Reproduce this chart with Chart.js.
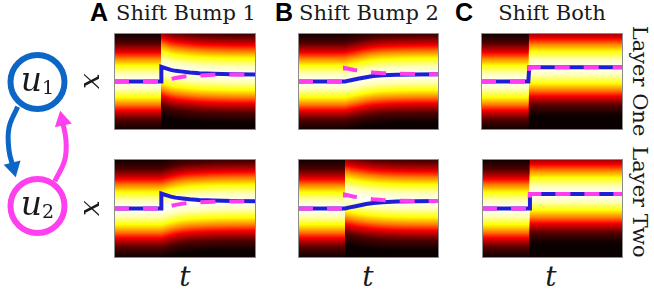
<!DOCTYPE html>
<html lang="en">
<head>
<meta charset="UTF-8">
<title>Shift Bump panels</title>
<script src="https://cdn.jsdelivr.net/npm/chart.js"></script>
<style>
  body { margin: 0; background: #fff; }
  #fig { position: relative; width: 654px; height: 291px; overflow: hidden; color: #1a1a1a; }
  #fig canvas { position: absolute; }
  .lbl { position: absolute; white-space: nowrap; line-height: 1; font-family: "DejaVu Serif", serif; }
  .tag { font-family: "Liberation Sans", Arial, sans-serif; font-weight: bold; font-size: 25px; color: #000; }
  .ttl { font-size: 21px; transform: translateX(-50%); }
  .ax { font-style: italic; font-size: 28px; }
  .side { font-size: 21px; transform: translate(-50%, -50%) rotate(90deg); }
  .node { font-size: 33px; width: 75px; text-align: center; left: 0; }
  .node i { font-style: italic; }
  .node span { font-size: 19px; vertical-align: -3px; }
</style>
</head>
<body>
<div id="fig">
  <canvas id="net" width="80" height="250" style="left:0;top:20px"></canvas>
  <canvas id="a1" width="142" height="97" style="left:114px;top:33px"></canvas>
  <canvas id="b1" width="141" height="97" style="left:298px;top:33px"></canvas>
  <canvas id="c1" width="142" height="97" style="left:481px;top:33px"></canvas>
  <canvas id="a2" width="142" height="99" style="left:114px;top:159px"></canvas>
  <canvas id="b2" width="141" height="99" style="left:298px;top:159px"></canvas>
  <canvas id="c2" width="141" height="99" style="left:482px;top:159px"></canvas>

  <div class="lbl tag" style="left:90px;top:0">A</div>
  <div class="lbl tag" style="left:275px;top:0">B</div>
  <div class="lbl tag" style="left:455px;top:0">C</div>
  <div class="lbl ttl" style="left:186px;top:3px">Shift Bump 1</div>
  <div class="lbl ttl" style="left:369px;top:3px">Shift Bump 2</div>
  <div class="lbl ttl" style="left:552px;top:3px">Shift Both</div>

  <div class="lbl ax" style="left:90px;top:81px;transform:translate(-50%,-50%) rotate(-90deg)">x</div>
  <div class="lbl ax" style="left:90px;top:208px;transform:translate(-50%,-50%) rotate(-90deg)">x</div>
  <div class="lbl ax" style="left:185px;top:263px;transform:translateX(-50%)">t</div>
  <div class="lbl ax" style="left:368px;top:263px;transform:translateX(-50%)">t</div>
  <div class="lbl ax" style="left:551px;top:263px;transform:translateX(-50%)">t</div>

  <div class="lbl side" style="left:639px;top:81px">Layer One</div>
  <div class="lbl side" style="left:639px;top:202px">Layer Two</div>

  <div class="lbl node" style="top:63px"><i>u</i><span>1</span></div>
  <div class="lbl node" style="top:187px"><i>u</i><span>2</span></div>
</div>

<script>
// bump positions (radians) over time, shift applied at t = 1
var timeA = [0, 1, 1, 1.1, 1.2, 1.3, 1.45, 1.6, 1.8, 2.1, 2.5, 3];
var bumpOneA = [0, 0, 0.95, 0.85, 0.75, 0.69, 0.64, 0.59, 0.54, 0.50, 0.47, 0.46];
var bumpTwoA = [0, 0, 0, 0.08, 0.16, 0.23, 0.31, 0.36, 0.39, 0.43, 0.45, 0.46];

var timeB = [0, 1, 1, 1.1, 1.2, 1.3, 1.45, 1.6, 1.8, 2.1, 2.5, 3];
var bumpOneB = [0, 0, 0, 0.07, 0.13, 0.19, 0.28, 0.35, 0.40, 0.44, 0.46, 0.47];
var bumpTwoB = [0, 0, 0.88, 0.81, 0.75, 0.70, 0.64, 0.59, 0.54, 0.50, 0.48, 0.47];

var timeC = [0, 1, 1.02, 3];
var bumpOneC = [0, 0, 0.92, 0.92];
var bumpTwoC = [0, 0, 0.92, 0.92];

// activity level against distance from the bump centre
var profileDist = [0, 0.5, 1.0, 1.5, 2.0, 2.5, 3.14];
var profileLevel = [1.0, 0.93, 0.76, 0.55, 0.29, 0.10, 0.0];

// network sketch: two nodes and the two coupling arrows
var nodeX = [0, 0];
var nodeY = [1, 0];
var arrowOneX = [-0.16, -0.23, -0.23, -0.195];
var arrowOneY = [0.80, 0.63, 0.45, 0.31];
var arrowTwoX = [0.14, 0.22, 0.23, 0.20];
var arrowTwoY = [0.20, 0.37, 0.53, 0.69];

var blueLine = '#1e1ed8';
var pinkLine = '#ff3cf0';
var blueNode = '#0b66c6';
var pinkNode = '#ff40ee';

function interp(xs, ys, v) {
    if (v <= xs[0]) return ys[0];
    for (var i = 1; i < xs.length; i++) {
        if (xs[i] > xs[i - 1] && v >= xs[i - 1] && v < xs[i]) {
            var f = (v - xs[i - 1]) / (xs[i] - xs[i - 1]);
            return ys[i - 1] + f * (ys[i] - ys[i - 1]);
        }
    }
    return ys[ys.length - 1];
}

// matplotlib "hot"
function hot(v) {
    var r = Math.min(1, 0.0416 + v / 0.365 * 0.9584);
    var g = Math.max(0, Math.min(1, (v - 0.365) / 0.381));
    var b = Math.max(0, Math.min(1, (v - 0.746) / 0.254));
    return [r * 255, g * 255, b * 255];
}

function pts(xs, ys) {
    return xs.map(function (x, i) { return { x: x, y: ys[i] }; });
}

function heatLayer(time, centre) {
    return {
        id: 'heat',
        beforeDatasetsDraw: function (chart) {
            var a = chart.chartArea, sx = chart.scales.x, sy = chart.scales.y;
            var w = Math.round(a.right - a.left), h = Math.round(a.bottom - a.top);
            var img = chart.ctx.createImageData(w, h);
            for (var i = 0; i < w; i++) {
                var c = interp(time, centre, sx.getValueForPixel(a.left + i + 0.5));
                for (var j = 0; j < h; j++) {
                    var d = Math.abs(sy.getValueForPixel(a.top + j + 0.5) - c);
                    var rgb = hot(interp(profileDist, profileLevel, d));
                    var k = (j * w + i) * 4;
                    img.data[k] = rgb[0];
                    img.data[k + 1] = rgb[1];
                    img.data[k + 2] = rgb[2];
                    img.data[k + 3] = 255;
                }
            }
            chart.ctx.putImageData(img, a.left, a.top);
        },
        afterDraw: function (chart) {
            var a = chart.chartArea, ctx = chart.ctx;
            ctx.save();
            ctx.strokeStyle = '#8c8c8c';
            ctx.lineWidth = 1;
            ctx.strokeRect(a.left + 0.5, a.top + 0.5, a.right - a.left - 1, a.bottom - a.top - 1);
            ctx.restore();
        }
    };
}

function panel(id, time, one, two, layer) {
    new Chart(document.getElementById(id), {
        type: 'line',
        data: {
            datasets: [{
                data: pts(time, two),
                borderColor: pinkLine,
                borderWidth: 4,
                borderDash: [15, 14],
                pointRadius: 0
            }, {
                data: pts(time, one),
                borderColor: blueLine,
                borderWidth: 4,
                pointRadius: 0
            }]
        },
        options: {
            responsive: false,
            animation: false,
            devicePixelRatio: 1,
            events: [],
            layout: { padding: 0, autoPadding: false },
            scales: {
                x: { type: 'linear', min: 0, max: 3, display: false },
                y: { min: -Math.PI, max: Math.PI, display: false }
            },
            plugins: { legend: { display: false }, tooltip: { enabled: false } }
        },
        plugins: [heatLayer(time, layer === 1 ? one : two)]
    });
}

panel('a1', timeA, bumpOneA, bumpTwoA, 1);
panel('b1', timeB, bumpOneB, bumpTwoB, 1);
panel('c1', timeC, bumpOneC, bumpTwoC, 1);
panel('a2', timeA, bumpOneA, bumpTwoA, 2);
panel('b2', timeB, bumpOneB, bumpTwoB, 2);
panel('c2', timeC, bumpOneC, bumpTwoC, 2);

// the two-node sketch on the left
new Chart(document.getElementById('net'), {
    type: 'scatter',
    data: {
        datasets: [{
            data: pts(nodeX, nodeY),
            clip: false,
            pointRadius: 27,
            pointBorderWidth: 6,
            pointBorderColor: [blueNode, pinkNode],
            pointBackgroundColor: '#fff'
        }, {
            data: pts(arrowOneX, arrowOneY),
            clip: false,
            showLine: true,
            tension: 0.4,
            borderColor: blueNode,
            borderWidth: 5,
            pointRadius: [0, 0, 0, 10],
            pointStyle: 'triangle',
            pointRotation: [0, 0, 0, 166],
            pointBorderWidth: 0,
            pointBackgroundColor: blueNode
        }, {
            data: pts(arrowTwoX, arrowTwoY),
            clip: false,
            showLine: true,
            tension: 0.4,
            borderColor: pinkNode,
            borderWidth: 5,
            pointRadius: [0, 0, 0, 10],
            pointStyle: 'triangle',
            pointRotation: [0, 0, 0, 348],
            pointBorderWidth: 0,
            pointBackgroundColor: pinkNode
        }]
    },
    options: {
        responsive: false,
        animation: false,
        devicePixelRatio: 1,
        events: [],
        layout: { padding: 0, autoPadding: false },
        scales: {
            x: { type: 'linear', min: -0.3024, max: 0.343, display: false },
            y: { min: -0.516, max: 1.5, display: false }
        },
        plugins: { legend: { display: false }, tooltip: { enabled: false } }
    }
});
</script>
</body>
</html>
